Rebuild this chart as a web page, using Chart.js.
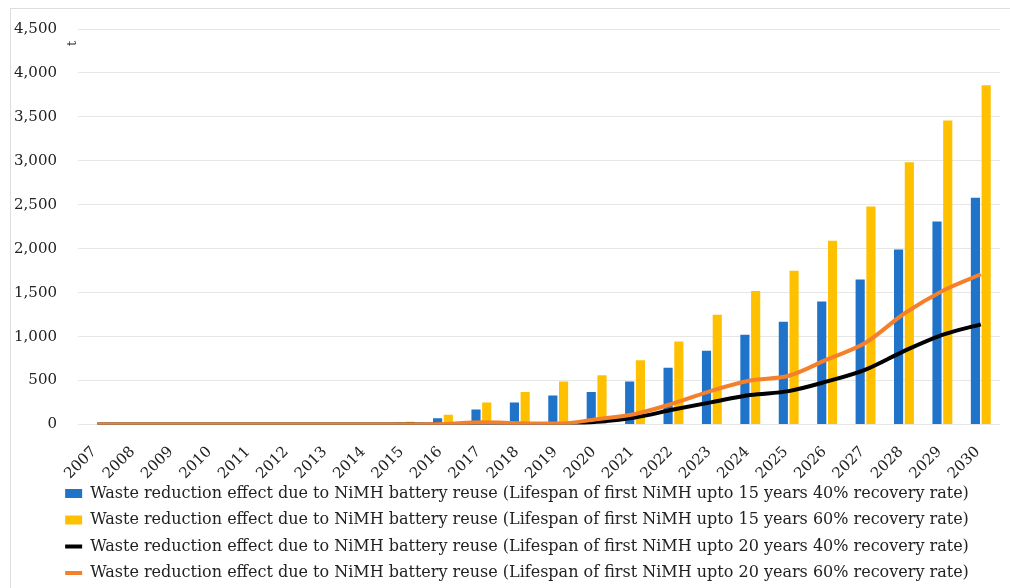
<!DOCTYPE html>
<html>
<head>
<meta charset="utf-8">
<script src="https://cdn.jsdelivr.net/npm/chart.js@4/dist/chart.umd.min.js"></script>
<style>
  html, body { margin: 0; padding: 0; background: #fff; overflow: hidden; }
  .frame { position: absolute; left: 10px; top: 8px; width: 1010px; height: 600px;
           border-top: 1px solid #dedede; border-left: 1px solid #dedede; }
  .box { position: absolute; left: 11px; top: 9px; width: 999px; height: 582px; }
</style>
</head>
<body>
<div class="frame"></div>
<div class="box"><canvas id="myChart"></canvas></div>
<script>
const years = ['2007','2008','2009','2010','2011','2012','2013','2014','2015','2016','2017','2018',
               '2019','2020','2021','2022','2023','2024','2025','2026','2027','2028','2029','2030'];
const reuse15y40 = [0,0,0,0,0,0,0,0,20,70,170,250,330,370,490,645,840,1020,1170,1400,1650,1990,2310,2580];
const reuse15y60 = [0,0,0,0,0,0,0,0,30,110,250,370,490,560,730,945,1250,1520,1750,2090,2480,2985,3460,3860];
const reuse20y40 = [0,0,0,0,0,0,0,0,0,0,15,5,0,30,80,170,255,335,380,490,625,835,1020,1140];
const reuse20y60 = [0,0,0,0,0,0,0,0,0,5,25,15,10,60,120,240,385,500,555,740,930,1260,1520,1710];
const yTicks = [0,500,1000,1500,2000,2500,3000,3500,4000,4500];

const serif = "'DejaVu Serif', serif";

// "t" unit label, slanted year labels (scale would clip them), legend nudge
const extras = {
    id: 'extras',
    afterLayout(chart) {
        chart.legend.left += 23
    },
    afterDraw(chart) {
        const c = chart.ctx
        const xs = chart.scales.x
        c.save()
        c.font = "15px " + serif
        c.fillStyle = '#222'
        c.textAlign = 'right'
        c.textBaseline = 'middle'
        xs.ticks.forEach((t, i) => {
            c.save()
            c.translate(xs.getPixelForTick(i) - 3, xs.top + 25)
            c.rotate(-Math.PI / 4)
            c.fillText(xs.getLabelForValue(t.value), 0, 0)
            c.restore()
        })
        c.translate(chart.chartArea.left - 5.5, chart.chartArea.top + 14.5)
        c.rotate(-Math.PI / 2)
        c.font = "13px " + serif
        c.textAlign = 'center'
        c.fillText('t', 0, 0)
        c.restore()
    }
}

const ctx = document.getElementById('myChart').getContext('2d');
const myChart = new Chart(ctx, {
    type: 'bar',
    data: {
        labels: years,
        datasets: [
            {
                label: 'Waste reduction effect due to NiMH battery reuse (Lifespan of first NiMH upto 15 years 40% recovery rate)',
                data: reuse15y40,
                backgroundColor: '#1f73c9',
                pointStyle: 'rect',
                order: 2
            },
            {
                label: 'Waste reduction effect due to NiMH battery reuse (Lifespan of first NiMH upto 15 years 60% recovery rate)',
                data: reuse15y60,
                backgroundColor: '#ffc000',
                pointStyle: 'rect',
                order: 2
            },
            {
                type: 'line',
                label: 'Waste reduction effect due to NiMH battery reuse (Lifespan of first NiMH upto 20 years 40% recovery rate)',
                data: reuse20y40,
                borderColor: '#000000',
                backgroundColor: '#000000',
                borderWidth: 4,
                pointRadius: 0,
                pointStyle: 'line',
                cubicInterpolationMode: 'monotone',
                order: 1
            },
            {
                type: 'line',
                label: 'Waste reduction effect due to NiMH battery reuse (Lifespan of first NiMH upto 20 years 60% recovery rate)',
                data: reuse20y60,
                borderColor: '#f5802b',
                backgroundColor: '#f5802b',
                borderWidth: 4,
                pointRadius: 0,
                pointStyle: 'line',
                cubicInterpolationMode: 'monotone',
                order: 0
            }
        ]
    },
    options: {
        responsive: true,
        maintainAspectRatio: false,
        animation: false,
        layout: { padding: { left: 0, top: 20, right: 10, bottom: 0 } },
        datasets: { bar: { categoryPercentage: 0.56, barPercentage: 0.85 } },
        plugins: {
            tooltip: { enabled: false },
            legend: {
                position: 'bottom',
                align: 'center',
                labels: {
                    usePointStyle: true,
                    pointStyleWidth: 17,
                    boxHeight: 9,
                    padding: 10.5,
                    color: '#222',
                    font: { family: serif, size: 16 },
                    sort: (a, b) => a.datasetIndex - b.datasetIndex
                }
            }
        },
        scales: {
            x: {
                grid: { display: false },
                border: { display: false },
                ticks: { display: false, autoSkip: false },
                afterFit: s => { s.height = 50.5 }
            },
            y: {
                min: 0,
                max: 4500,
                afterBuildTicks: s => { s.ticks = yTicks.map(v => ({ value: v })) },
                grid: { color: '#e6e6e6', lineWidth: 1, drawTicks: true, tickLength: 21, tickColor: 'rgba(0,0,0,0)' },
                border: { display: false },
                ticks: {
                    color: '#222',
                    font: { family: serif, size: 15 },
                    padding: 0,
                    callback: v => v.toLocaleString('en-US')
                },
                afterFit: s => { s.width = 67 }
            }
        }
    },
    plugins: [extras]
});
</script>
</body>
</html>
